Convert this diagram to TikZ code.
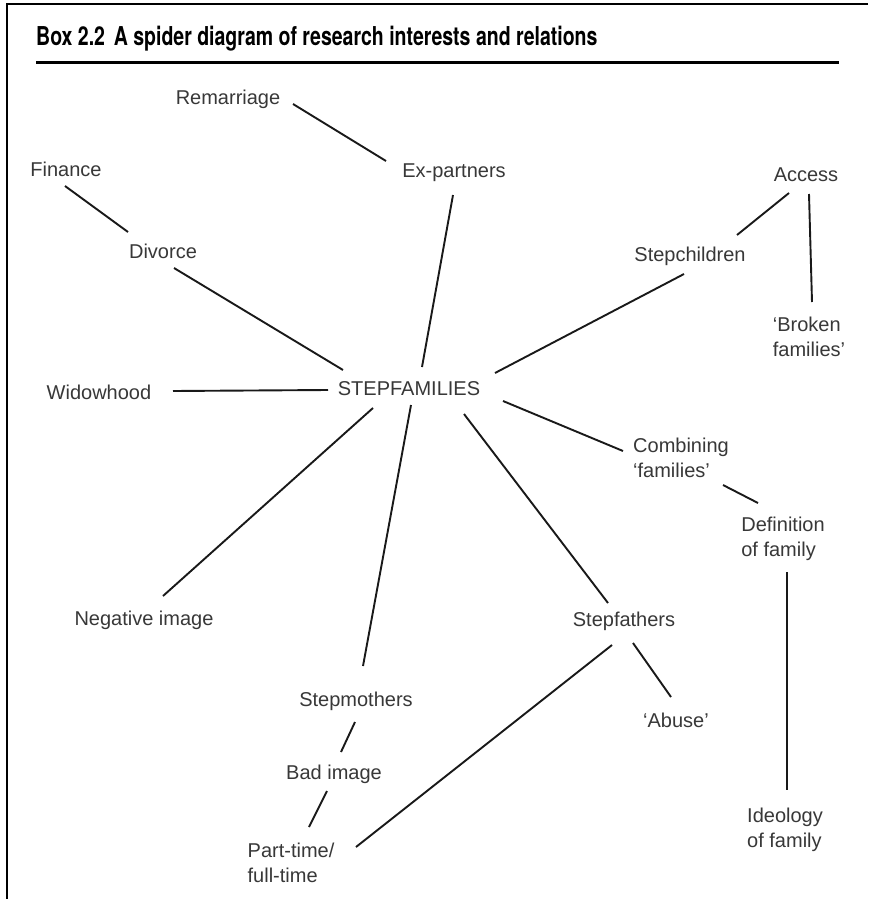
\documentclass[tikz,border=0pt]{standalone}
\usepackage{fontspec}
\setmainfont{Liberation Sans}
\newfontfamily\titlefont{TeX Gyre Heros}
\usetikzlibrary{calc}
\begin{document}
\begin{tikzpicture}[x=1pt,y=-1pt,
  lbl/.style={anchor=north, inner sep=0pt, align=left, text=black!78,
    font=\fontsize{20}{25}\selectfont},
  link/.style={line width=1.9pt, black!90},
  frame/.style={line width=2.5pt, black}]
\useasboundingbox (0,0) rectangle (868,899);
\fill[white] (0,0) rectangle (868,899);
\draw[frame] (868,4) -- (7,4) -- (7,899);
\node[anchor=north west, inner sep=0pt] (title) at (36,26)
  {\scalebox{0.75}[1]{\titlefont\bfseries\fontsize{26}{30}\selectfont Box 2.2\hspace{0.45em}A spider diagram of research interests and relations}};
\draw[line width=3pt] (36,62.5) -- (839,62.5);

\node[lbl] (remar) at (228,90) {Remarriage};
\node[lbl] (expa) at (454,164) {Ex-partners};
\node[lbl] (fin) at (66,162) {Finance};
\node[lbl] (div) at (163,244) {Divorce};
\node[lbl] (acc) at (806,168) {Access};
\node[lbl] (stch) at (690,247) {Stepchildren};
\node[lbl] (brok) at (809,317) {‘Broken\\families’};
\node[lbl] (wid) at (99,385) {Widowhood};
\node[lbl] (step) at (409,381) {STEPFAMILIES};
\node[lbl] (comb) at (681,438) {Combining\\‘families’};
\node[lbl] (defn) at (783,517) {Definition\\of family};
\node[lbl] (neg) at (144,611) {Negative image};
\node[lbl] (stfa) at (624,612) {Stepfathers};
\node[lbl] (stmo) at (356,692) {Stepmothers};
\node[lbl] (abuse) at (676,713) {‘Abuse’};
\node[lbl] (bad) at (334,765) {Bad image};
\node[lbl] (ideo) at (785,808) {Ideology\\of family};
\node[lbl] (part) at (291,843) {Part-time/\\full-time};

\draw[link] ($(remar.north)+(65,14)$) -- ($(expa.north)+(-68,-3)$);
\draw[link] ($(expa.north)+(-1,31)$) -- ($(step.north)+(13,-14)$);
\draw[link] ($(fin.north)+(-1,24)$) -- ($(div.north)+(-35,-12)$);
\draw[link] ($(div.north)+(11,24)$) -- ($(step.north)+(-66,-11)$);
\draw[link] ($(wid.north)+(74,6)$) -- ($(step.north)+(-81,9)$);
\draw[link] ($(stch.north)+(47,-12)$) -- ($(acc.north)+(-17,25)$);
\draw[link] ($(acc.north)+(3,26)$) -- ($(brok.north)+(3,-15)$);
\draw[link] ($(stch.north)+(-6,27)$) -- ($(step.north)+(86,-8)$);
\draw[link] ($(step.north)+(94,20)$) -- ($(comb.north)+(-58,13)$);
\draw[link] ($(comb.north)+(42,47)$) -- ($(defn.north)+(-25,-14)$);
\draw[link] ($(defn.north)+(4,55)$) -- ($(ideo.north)+(2,-18)$);
\draw[link] ($(step.north)+(-36,27)$) -- ($(neg.north)+(19,-15)$);
\draw[link] ($(step.north)+(2,24)$) -- ($(stmo.north)+(7,-26)$);
\draw[link] ($(step.north)+(55,33)$) -- ($(stfa.north)+(-16,-9)$);
\draw[link] ($(stfa.north)+(9,31)$) -- ($(abuse.north)+(-5,-16)$);
\draw[link] ($(stfa.north)+(-12,33)$) -- ($(part.north)+(65,4)$);
\draw[link] ($(stmo.north)+(-1,30)$) -- ($(bad.north)+(7,-13)$);
\draw[link] ($(bad.north)+(-7,26)$) -- ($(part.north)+(18,-16)$);
\end{tikzpicture}
\end{document}
